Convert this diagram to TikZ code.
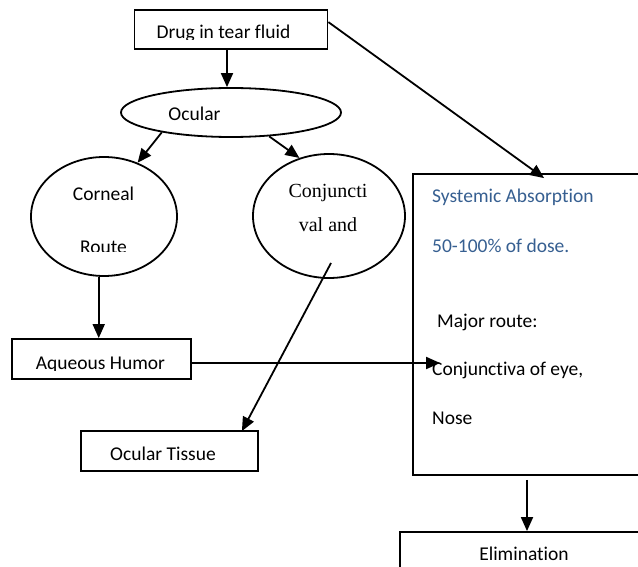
\documentclass[tikz,border=0pt]{standalone}
\usepackage{fontspec}
\setmainfont{Carlito}[Ligatures={NoCommon,NoContextual}]
\newfontfamily\timesfont{Liberation Serif}[Ligatures=NoCommon]
\usetikzlibrary{arrows.meta,calc,shapes.geometric}
\definecolor{wordblue}{RGB}{54,95,145}
\tikzset{
  arr/.style={line width=1.8pt, -{Triangle[length=14pt,width=12pt]}},
  boxshape/.style={draw, line width=1.8pt, rectangle, inner sep=0pt},
  ellshape/.style={draw, line width=1.8pt, ellipse, inner sep=0pt},
  txt/.style={font=\fontsize{19.5}{23}\selectfont, inner sep=0pt, anchor=base},
  serif/.style={font=\timesfont\fontsize{20}{24}\selectfont, inner sep=0pt, anchor=base},
  sysblue/.style={txt, anchor=base west, text=wordblue},
  sysblack/.style={txt, anchor=base west},
}
\begin{document}
\begin{tikzpicture}[x=1pt,y=-1pt]
\clip (0,0) rectangle (638,567);
\fill[white] (0,0) rectangle (638,567);

% boxes
\node[boxshape, minimum width=193pt, minimum height=39pt] (drug) at (231,29.5) {};
\node[ellshape, minimum width=220pt, minimum height=49pt] (ocular) at (231,112.5) {};
\node[ellshape, minimum width=146pt, minimum height=119pt] (corneal) at (104,216.5) {};
\node[ellshape, minimum width=152pt, minimum height=124pt] (conj) at (329,216) {};
\node[boxshape, minimum width=179pt, minimum height=40pt] (aqueous) at (101.5,359) {};
\node[boxshape, minimum width=177pt, minimum height=40pt] (tissue) at (169.5,451) {};
\node[boxshape, minimum width=230pt, minimum height=301pt] (sys) at (528,324.5) {};
\node[boxshape, minimum width=244pt, minimum height=60pt] (elim) at (522,562) {};

% texts
\begin{scope}
  \clip (135,10) rectangle (328,40);
  \node[txt] (drugtxt) at (223.5,39) {Drug in tear fluid};
\end{scope}
\node[txt] (oculartxt) at (194.5,121) {Ocular};
\node[txt] (cornealtxt) at (103.5,201) {Corneal};
\begin{scope}
  \clip (30,230) rectangle (180,251.5);
  \node[txt] (routetxt) at (103.5,254) {Route};
\end{scope}
\node[serif] (conjtxt1) at (328,198) {Conjuncti};
\node[serif] (conjtxt2) at (328,232) {val and};
\begin{scope}
  \clip (12,339) rectangle (191,370);
  \node[txt] (aqueoustxt) at (100.5,369.5) {Aqueous Humor};
\end{scope}
\node[txt] (tissuetxt) at (163,460) {Ocular Tissue};
\node[sysblue] (s1) at (432,203) {Systemic Absorption};
\node[sysblue] (s2) at (432,252) {50-100\% of dose.};
\node[sysblack] (s3) at (437,327) {Major route:};
\node[sysblack] (s4) at (432,375) {Conjunctiva of eye,};
\node[sysblack] (s5) at (432,424) {Nose};
\node[txt] (elimtxt) at (524,560) {Elimination};

% connectors
\draw[arr] ($(drug.south)+(-4,0)$) -- ($(ocular.north)+(-4,0)$);
\draw[arr] (ocular.196) -- (corneal.58);
\draw[arr] (ocular.328) -- (conj.117);
\draw[arr] ($(drug.north east)+(0,13)$) -- ($(sys.north west)+(132,5)$);
\draw[arr] (corneal.265) -- ($(corneal.265 |- aqueous.north)$);
\draw[arr] ($(aqueous.east)+(0,4)$) -- ($(aqueous.east -| sys.west)+(28,4)$);
\draw[arr] ($(conj.center)+(2,47)$) -- ($(tissue.north east)+(-17,1)$);
\draw[arr] ($(sys.south)+(-1,4)$) -- ($(elim.north)+(5,0)$);
\end{tikzpicture}
\end{document}
